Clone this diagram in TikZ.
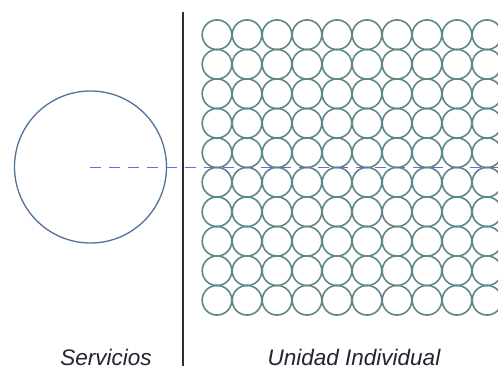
\documentclass[tikz,border=0pt]{standalone}
\usepackage{fontspec}
\setmainfont{Liberation Sans}
\definecolor{ringcol}{RGB}{95,135,135}
\definecolor{dashcol}{RGB}{120,100,215}
\definecolor{linecol}{RGB}{45,45,50}
\definecolor{textcol}{RGB}{35,35,50}
\begin{document}
\begin{tikzpicture}[x=1pt,y=-1pt,
  ring/.style={circle,draw=ringcol,line width=1.6pt,minimum size=29.6pt,inner sep=0pt},
  bigring/.style={circle,draw=ringcol!85!blue,line width=1.3pt,minimum size=152pt,inner sep=0pt},
  label/.style={font=\fontsize{22.5}{26}\selectfont\itshape,text=textcol,anchor=base,inner sep=0pt},
  divider/.style={draw=linecol,line width=2pt},
  axis/.style={draw=dashcol,line width=1.8pt,dash pattern=on 11pt off 8pt}]
\useasboundingbox (0,0) rectangle (498,371);
\fill[white] (0,0) rectangle (498,371);
% big circle
\node[bigring] (serv) at (90.5,167) {};
% grid of circles
\foreach \i in {0,...,9}{
  \foreach \j in {0,...,9}{
    \node[ring] (c-\i-\j) at (217+30*\i,34.75+29.5*\j) {};
  }
}
% divider
\coordinate (dtop) at (182.5,12);
\coordinate (dbot) at (182.5,366);
\draw[divider] (dtop) -- (dbot);
% dashed axis
\coordinate (axstart) at (90,167.5);
\coordinate (axend) at (498,167.5);
\draw[axis] (axstart) -- (axend);
% labels
\node[label] (lserv) at (106,366) {Servicios};
\node[label] (lunit) at (354,366) {Unidad Individual};
\end{tikzpicture}
\end{document}
